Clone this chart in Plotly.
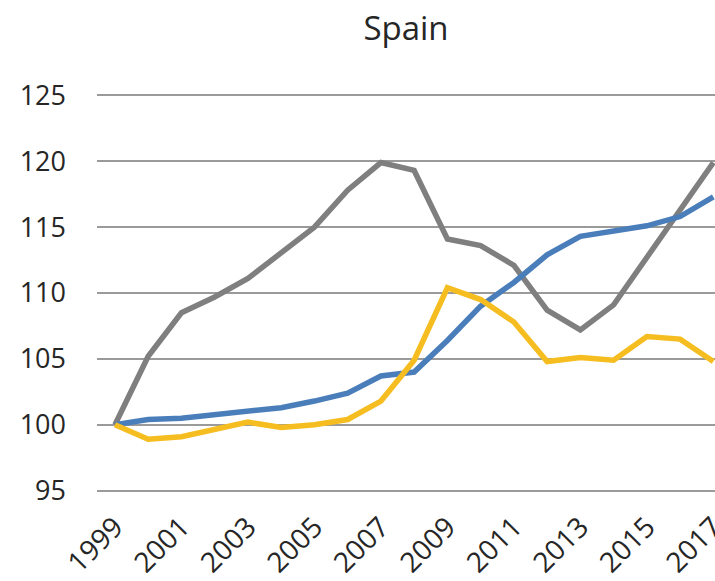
import plotly.graph_objects as go

years = list(range(1999, 2018))
gray_vals = [100.0, 105.2, 108.5, 109.7, 111.1, 113.0, 115.0, 117.8, 119.9, 119.3,
             114.1, 113.6, 112.1, 108.7, 107.2, 109.1, 112.7, 116.3, 119.9]
blue_vals = [100.0, 100.4, 100.5, 100.8, 101.1, 101.3, 101.8, 102.4, 103.7, 104.0,
             106.4, 109.0, 110.8, 112.9, 114.3, 114.7, 115.1, 115.8, 117.3]
yellow_vals = [100.0, 98.9, 99.1, 99.7, 100.2, 99.8, 100.0, 100.4, 101.8, 104.9,
               110.4, 109.5, 107.8, 104.8, 105.1, 104.9, 106.7, 106.5, 104.8]
x_ticks = list(range(1999, 2018, 2))
y_ticks = [95, 100, 105, 110, 115, 120, 125]

fig = go.Figure()
fig.add_trace(go.Scatter(x=years, y=gray_vals, mode="lines",
                         line=dict(color="#7f7f7f", width=5.5), showlegend=False))
fig.add_trace(go.Scatter(x=years, y=blue_vals, mode="lines",
                         line=dict(color="#4a7ebb", width=5.5), showlegend=False))
fig.add_trace(go.Scatter(x=years, y=yellow_vals, mode="lines",
                         line=dict(color="#f5bd1f", width=5.5), showlegend=False))

font_family = "Open Sans, Noto Sans, sans-serif"
fig.update_layout(
    width=715, height=581,
    margin=dict(l=97, r=0, t=94, b=89, pad=0),
    paper_bgcolor="white", plot_bgcolor="white",
    title=dict(text="Spain", x=0.5, xref="paper", xanchor="center",
               y=1 - 28 / 581, yref="container", yanchor="middle",
               font=dict(family=font_family, size=33, color="#262626")),
    xaxis=dict(range=[1998.46, 2017.05], tickvals=x_ticks,
               ticktext=[str(v) for v in x_ticks], tickangle=-45,
               ticklabeloverflow="allow", ticklabelstandoff=12,
               showgrid=False, zeroline=False, showline=False, automargin=False,
               tickfont=dict(family=font_family, size=28, color="#262626")),
    yaxis=dict(range=[94.9, 125.1], tickvals=y_ticks,
               ticktext=[str(v) for v in y_ticks], automargin=False,
               showgrid=True, gridcolor="#9a9a9a", gridwidth=1.5,
               zeroline=False, showline=False, ticklabelstandoff=30,
               tickfont=dict(family=font_family, size=27, color="#262626")),
)

fig.write_html(
    "out.html",
    config={"displayModeBar": False},
    post_script="document.body.style.margin='0';document.body.style.overflow='hidden';",
)
